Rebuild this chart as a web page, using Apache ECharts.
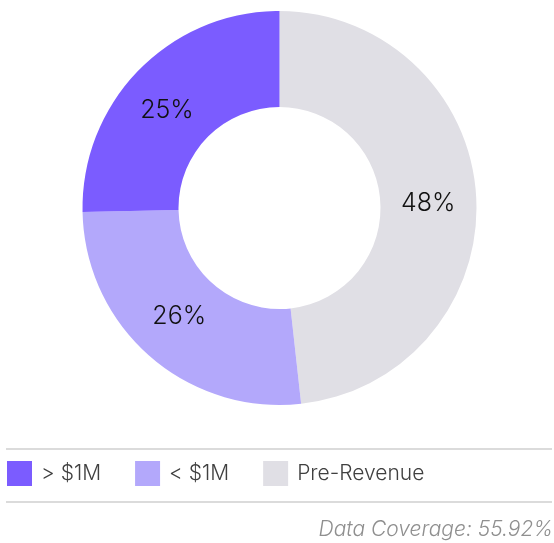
<!DOCTYPE html>
<html>
<head>
<meta charset="utf-8">
<script src="https://cdn.jsdelivr.net/npm/echarts@6/dist/echarts.min.js"></script>
<style>
  html, body { margin: 0; padding: 0; background: #fff; }
  #chart { width: 554px; height: 543px; }
</style>
</head>
<body>
<div id="chart"></div>
<script>
// slice order follows the drawing (clockwise from 12 o'clock)
const categories = ['Pre-Revenue', '< $1M', '> $1M'];
const shares = [48.2, 26.4, 25.3];
const colors = ['#e0dfe5', '#b3a8fb', '#7b5cff'];
const legendOrder = ['> $1M', '< $1M', 'Pre-Revenue'];
const coverageText = 'Data Coverage: 55.92%';

// small nudges so the labels sit where the original puts them
const labelNudge = [[-3, 4], [0, -6], [-4, 9]];

const myChart = echarts.init(document.getElementById('chart'));

const option = {
  animation: false,
  textStyle: { fontFamily: 'Inter' },
  legend: {
    data: legendOrder,
    left: 7,
    top: 461,
    padding: 0,
    icon: 'rect',
    itemWidth: 25,
    itemHeight: 25,
    itemGap: 34,
    selectedMode: false,
    textStyle: { fontSize: 21, color: '#404040', fontFamily: 'Inter', fontWeight: 300, padding: [0, 0, 0, 4] }
  },
  graphic: [
    { type: 'line', shape: { x1: 6, y1: 449, x2: 552, y2: 449 }, style: { stroke: '#cfcfcf', lineWidth: 1.5 } },
    { type: 'line', shape: { x1: 6, y1: 502, x2: 552, y2: 502 }, style: { stroke: '#cfcfcf', lineWidth: 1.5 } },
    {
      type: 'text',
      right: 1,
      top: 519,
      style: {
        text: coverageText,
        font: 'italic 300 21px Inter',
        fill: '#8f8f8f'
      }
    }
  ],
  series: [
    {
      type: 'pie',
      center: [279.5, 208],
      radius: [101, 197],
      startAngle: 90,
      clockwise: true,
      avoidLabelOverlap: false,
      label: {
        show: true,
        position: 'inside',
        fontSize: 25,
        fontWeight: 300,
        color: '#111',
        fontFamily: 'Inter',
        formatter: (p) => Math.round(p.percent) + '%'
      },
      labelLine: { show: false },
      emphasis: { disabled: true },
      data: categories.map((name, i) => ({
        name: name,
        value: shares[i],
        itemStyle: { color: colors[i] },
        label: { offset: labelNudge[i] }
      }))
    }
  ]
};

myChart.setOption(option);
</script>
</body>
</html>
